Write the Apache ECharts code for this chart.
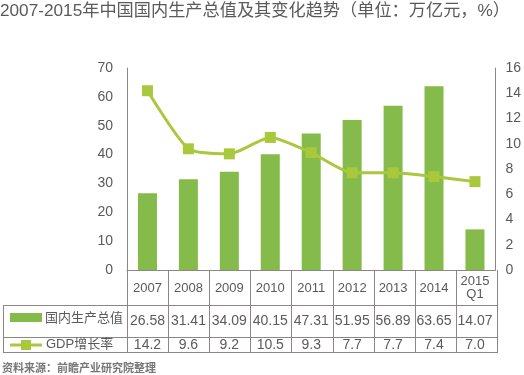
<!DOCTYPE html>
<html>
<head>
<meta charset="utf-8">
<script src="https://cdn.jsdelivr.net/npm/echarts@6/dist/echarts.min.js"></script>
<style>
  html, body { margin: 0; padding: 0; background: #fff; }
  #main { width: 524px; height: 375px; }
</style>
</head>
<body>
<div id="main"></div>
<script>
// years, GDP (万亿元) and growth rate (%)
var years = ['2007', '2008', '2009', '2010', '2011', '2012', '2013', '2014', '2015\nQ1'];
var gdp = [26.58, 31.41, 34.09, 40.15, 47.31, 51.95, 56.89, 63.65, 14.07];
var growth = [14.2, 9.6, 9.2, 10.5, 9.3, 7.7, 7.7, 7.4, 7.0];
var gdpText = ['26.58', '31.41', '34.09', '40.15', '47.31', '51.95', '56.89', '63.65', '14.07'];
var growthText = ['14.2', '9.6', '9.2', '10.5', '9.3', '7.7', '7.7', '7.4', '7.0'];

var FONT = '"Liberation Sans", "Noto Sans CJK SC", sans-serif';
var GRAY = '#5a5a5a';
var LINEC = '#8c8784';
var BARC = '#84bb4a';
var LINEG = '#a9c83c';

var L = 127, R = 497, T = 68, B = 270;
var colW = (R - L) / years.length;
var row1 = 305, row2 = 337, row3 = 352;

var chart = echarts.init(document.getElementById('main'));

// table grid lines
var gfx = [];
function ln(x1, y1, x2, y2) {
  gfx.push({ type: 'line', shape: { x1: x1, y1: y1, x2: x2, y2: y2 }, style: { stroke: LINEC, lineWidth: 1 }, silent: true });
}
for (var i = 0; i <= years.length; i++) {
  var x = Math.round(L + i * colW) + 0.5;
  ln(x, B, x, row3);
}
ln(3.5, row1, 3.5, row3);
ln(3, row1 + 0.5, R + 1, row1 + 0.5);
ln(3, row2 + 0.5, R + 1, row2 + 0.5);
ln(3, row3 + 0.5, R + 1, row3 + 0.5);

// legend cells in the table
gfx.push({ type: 'rect', shape: { x: 10, y: 313, width: 32, height: 9 }, style: { fill: BARC } });
gfx.push({ type: 'text', left: 45, top: 312, style: { text: '国内生产总值', font: '13px ' + FONT, fill: GRAY } });
gfx.push({ type: 'line', shape: { x1: 10, y1: 345, x2: 42, y2: 345 }, style: { stroke: LINEG, lineWidth: 3 } });
gfx.push({ type: 'rect', shape: { x: 21, y: 340, width: 10, height: 10 }, style: { fill: LINEG } });
gfx.push({ type: 'text', left: 46, top: 338, style: { text: 'GDP增长率', font: '13px ' + FONT, fill: GRAY } });

gfx.push({ type: 'text', left: 0, top: 3, style: { text: '2007-2015年中国国内生产总值及其变化趋势（单位：万亿元，%）', font: '17.2px ' + FONT, fill: GRAY } });
gfx.push({ type: 'text', left: 2, top: 363, style: { text: '资料来源：前瞻产业研究院整理', font: 'bold 11px ' + FONT, fill: '#777' } });

function rowAxis(data, margin) {
  return {
    type: 'category', data: data, position: 'bottom', gridIndex: 0,
    axisLine: { show: false }, axisTick: { show: false },
    axisLabel: { interval: 0, margin: margin, verticalAlign: 'middle', color: GRAY, fontSize: 14, fontFamily: FONT }
  };
}

chart.setOption({
  animation: false,
  grid: { left: L, right: 524 - R, top: T, bottom: 375 - B },
  graphic: gfx,
  xAxis: [
    {
      type: 'category', data: years,
      axisLine: { lineStyle: { color: LINEC, width: 1 } },
      axisTick: { show: false },
      axisLabel: { interval: 0, margin: 18, verticalAlign: 'middle', lineHeight: 13, color: GRAY, fontSize: 13, fontFamily: FONT }
    },
    rowAxis(gdpText, 51),
    rowAxis(growthText, 75)
  ],
  yAxis: [
    {
      type: 'value', min: 0, max: 70, interval: 10,
      splitLine: { show: false },
      axisLine: { show: true, lineStyle: { color: LINEC, width: 1 } },
      axisTick: { show: false },
      axisLabel: { margin: 14, color: GRAY, fontSize: 14, fontFamily: FONT }
    },
    {
      type: 'value', min: 0, max: 16, interval: 2,
      splitLine: { show: false },
      axisLine: { show: true, lineStyle: { color: LINEC, width: 1 } },
      axisTick: { show: false },
      axisLabel: { margin: 10, color: GRAY, fontSize: 14, fontFamily: FONT }
    }
  ],
  series: [
    {
      name: '国内生产总值', type: 'bar', data: gdp, barWidth: 19,
      itemStyle: { color: BARC }
    },
    {
      name: 'GDP增长率', type: 'line', yAxisIndex: 1, data: growth, smooth: 0.2,
      symbol: 'rect', symbolSize: 11,
      lineStyle: { color: LINEG, width: 3 },
      itemStyle: { color: LINEG }
    }
  ]
});
</script>
</body>
</html>
